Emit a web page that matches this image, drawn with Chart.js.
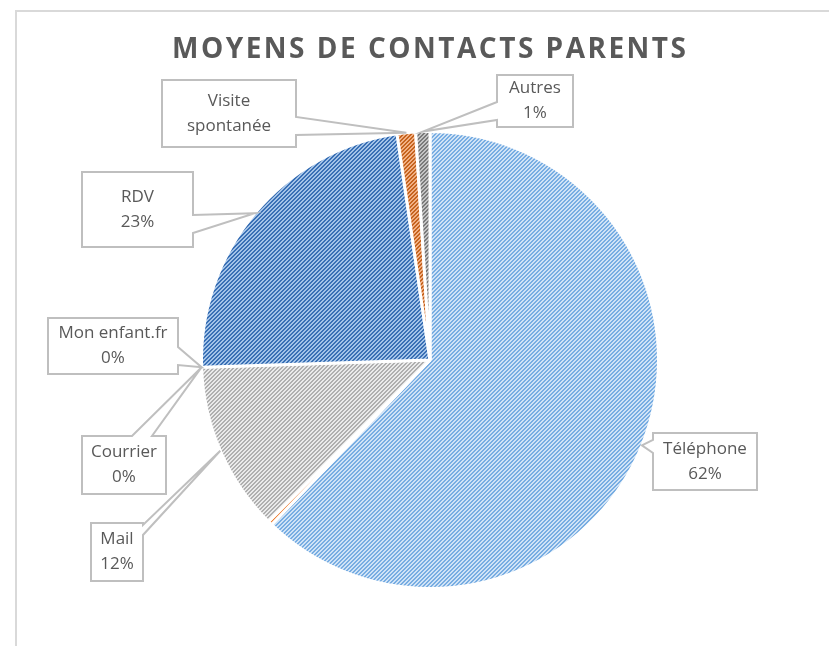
<!DOCTYPE html>
<html lang="fr">
<head>
<meta charset="utf-8">
<title>Moyens de contacts parents</title>
<script src="https://cdn.jsdelivr.net/npm/chart.js@4.4.1/dist/chart.umd.min.js"></script>
<style>
    html, body { margin: 0; padding: 0; background: #fff; }
    canvas { display: block; }
</style>
</head>
<body>
<canvas id="pieChart" width="829" height="646"></canvas>
<script>
// Données (en %)
const titre = 'MOYENS DE CONTACTS PARENTS';
const categories = ['Téléphone', '', 'Mail', 'Courrier', 'Mon enfant.fr', 'RDV', 'Visite spontanée', 'Autres'];
const valeurs = [62.2, 0.3, 12.0, 0, 0, 23.2, 1.3, 1.0];
// Certaines étiquettes n'affichent pas le pourcentage
const afficherPourcent = [true, false, true, true, true, true, false, true];

// Motif hachuré façon Excel : bandes diagonales "/" de 2 px
function hachures(avant, fond) {
    const c = document.createElement('canvas');
    c.width = 4;
    c.height = 4;
    const g = c.getContext('2d');
    for (let x = 0; x < 4; x++) {
        for (let y = 0; y < 4; y++) {
            g.fillStyle = ((x + y) % 4 < 2) ? avant : fond;
            g.fillRect(x, y, 1, 1);
        }
    }
    return g.createPattern(c, 'repeat');
}

const couleurs = [
    hachures('#78ade2', '#d0e3f6'),  // Téléphone
    '#ed7d31',
    hachures('#afafaf', '#eaeaea'),  // Mail
    '#ffc000',
    '#70ad47',
    hachures('#3a70b5', '#a3c3e8'),  // RDV
    hachures('#c5631e', '#f2b084'),  // Visite spontanée
    hachures('#7a7a7a', '#c4c4c4')   // Autres
];

// Emplacement des bulles d'étiquettes (cote = bord d'où part la pointe)
const bulles = [
    { x: 653, y: 433, w: 104, h: 57, cote: 'left', b1: 7, b2: 20 },
    null,
    { x: 91, y: 523, w: 52, h: 58, cote: 'right', b1: 2, b2: 12 },
    { x: 82, y: 436, w: 84, h: 58, cote: 'top', b1: 50, b2: 70 },
    { x: 48, y: 318, w: 130, h: 56, cote: 'right', b1: 29, b2: 47 },
    { x: 82, y: 172, w: 111, h: 75, cote: 'right', b1: 43, b2: 61 },
    { x: 162, y: 80, w: 134, h: 67, cote: 'right', b1: 37, b2: 55 },
    { x: 497, y: 75, w: 76, h: 52, cote: 'left', b1: 27, b2: 45 }
];

function cheminBulle(ctx, b, px, py) {
    const { x, y, w, h, cote, b1, b2 } = b;
    ctx.beginPath();
    ctx.moveTo(x, y);
    if (cote === 'top') { ctx.lineTo(x + b1, y); ctx.lineTo(px, py); ctx.lineTo(x + b2, y); }
    ctx.lineTo(x + w, y);
    if (cote === 'right') { ctx.lineTo(x + w, y + b1); ctx.lineTo(px, py); ctx.lineTo(x + w, y + b2); }
    ctx.lineTo(x + w, y + h);
    if (cote === 'bottom') { ctx.lineTo(x + b2, y + h); ctx.lineTo(px, py); ctx.lineTo(x + b1, y + h); }
    ctx.lineTo(x, y + h);
    if (cote === 'left') { ctx.lineTo(x, y + b2); ctx.lineTo(px, py); ctx.lineTo(x, y + b1); }
    ctx.closePath();
}

// Coupe le texte en lignes qui tiennent dans la bulle
function couper(ctx, texte, largeurMax) {
    const mots = texte.split(' ');
    const lignes = [];
    let courante = '';
    mots.forEach(m => {
        const essai = courante ? courante + ' ' + m : m;
        if (courante && ctx.measureText(essai).width > largeurMax) {
            lignes.push(courante);
            courante = m;
        } else {
            courante = essai;
        }
    });
    if (courante) lignes.push(courante);
    return lignes;
}

const total = valeurs.reduce((a, b) => a + b, 0);

const pluginBulles = {
    id: 'bulles',
    beforeDraw(chart) {
        const ctx = chart.ctx;
        ctx.save();
        // cadre du graphique
        ctx.fillStyle = '#d9d9d9';
        ctx.fillRect(15, 10, 2, 636);
        ctx.fillRect(15, 10, 814, 2);
        // titre avec espacement des lettres
        ctx.fillStyle = '#595959';
        ctx.font = 'bold 28px "Open Sans"';
        ctx.textAlign = 'center';
        ctx.textBaseline = 'alphabetic';
        const largeur = ctx.measureText(titre).width;
        const espace = (514 - largeur) / (titre.length - 1);
        ctx.letterSpacing = espace + 'px';
        ctx.fillText(titre, 429 + espace / 2, 58);
        ctx.restore();
    },
    afterDatasetsDraw(chart) {
        const ctx = chart.ctx;
        const arcs = chart.getDatasetMeta(0).data;
        ctx.save();
        arcs.forEach((arc, i) => {
            const b = bulles[i];
            if (!b) return;
            const p = arc.getProps(['x', 'y', 'startAngle', 'endAngle', 'outerRadius'], true);
            const milieu = (p.startAngle + p.endAngle) / 2;
            const px = p.x + Math.cos(milieu) * p.outerRadius;
            const py = p.y + Math.sin(milieu) * p.outerRadius;
            cheminBulle(ctx, b, px, py);
            ctx.fillStyle = '#ffffff';
            ctx.fill();
            ctx.lineWidth = 2;
            ctx.strokeStyle = '#bfbfbf';
            ctx.stroke();

            ctx.fillStyle = '#595959';
            ctx.font = '17px "Open Sans"';
            ctx.textAlign = 'center';
            ctx.textBaseline = 'middle';
            const lignes = couper(ctx, categories[i], b.w - 12);
            if (afficherPourcent[i]) lignes.push(Math.round(valeurs[i] / total * 100) + '%');
            const cx = b.x + b.w / 2;
            const cy = b.y + b.h / 2;
            lignes.forEach((t, k) => {
                ctx.fillText(t, cx, cy + (k - (lignes.length - 1) / 2) * 25);
            });
        });
        ctx.restore();
    }
};

new Chart(document.getElementById('pieChart'), {
    type: 'pie',
    data: {
        labels: categories,
        datasets: [{
            data: valeurs,
            backgroundColor: couleurs,
            borderColor: '#ffffff',
            borderWidth: 3
        }]
    },
    options: {
        responsive: false,
        animation: false,
        layout: {
            padding: { top: 130, bottom: 56, left: 200, right: 169 }
        },
        plugins: {
            legend: { display: false },
            tooltip: { enabled: false },
            title: { display: false }
        }
    },
    plugins: [pluginBulles]
});
</script>
</body>
</html>
